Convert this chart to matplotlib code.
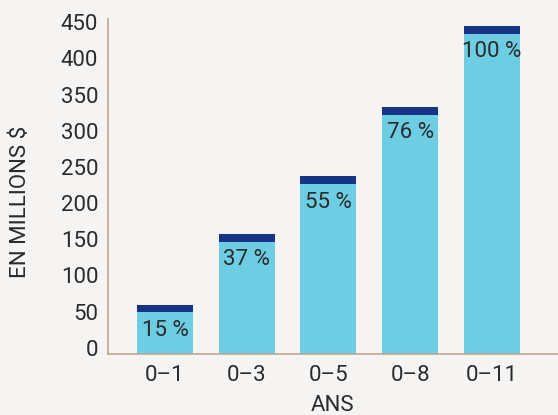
import matplotlib

matplotlib.use("Agg")
import matplotlib.pyplot as plt
import matplotlib.transforms as mtransforms

# Data
categories = ["0\u20131", "0\u20133", "0\u20135", "0\u20138", "0\u201311"]
base_values = [58, 155, 235, 331, 443]
cap_values = [10, 11, 11, 11, 11]
pct_labels = ["15 %", "37 %", "55 %", "76 %", "100 %"]
yticks = [0, 50, 100, 150, 200, 250, 300, 350, 400, 450]

LIGHT = "#6dcde3"
NAVY = "#163384"
BG = "#f5f4f2"
SPINE = "#bda88f"
TEXT = "#2b2b2b"
FS = 16

plt.rcParams["font.family"] = ["Roboto", "DejaVu Sans"]

fig = plt.figure(figsize=(5.58, 4.15), dpi=100, facecolor=BG)
ax = fig.add_axes([0.1935, 0.147, 0.8065, 0.807])
ax.set_facecolor(BG)

x = list(range(len(categories)))
ax.bar(x, base_values, width=0.685, color=LIGHT, linewidth=0)
ax.bar(x, cap_values, width=0.685, bottom=base_values, color=NAVY, linewidth=0)

for xi, top, lab in zip(x, base_values, pct_labels):
    ax.annotate(lab, (xi, top), xytext=(0, -13), textcoords="offset points",
                ha="center", va="center", fontsize=FS, color=TEXT)

ax.set_xlim(-0.697, 4.807)
ax.set_ylim(0, 463)
ax.set_xticks(x)
ax.set_xticklabels(categories)
ax.set_yticks(yticks)
ax.tick_params(axis="both", length=0, labelsize=FS, labelcolor=TEXT)
ax.tick_params(axis="y", pad=7)
ax.tick_params(axis="x", pad=8)

# the original's y labels sit a few pixels above their values
offset = mtransforms.ScaledTranslation(0, 4.5 / 72, fig.dpi_scale_trans)
for lbl in ax.get_yticklabels():
    lbl.set_transform(lbl.get_transform() + offset)

for side in ["top", "right"]:
    ax.spines[side].set_visible(False)
for side in ["left", "bottom"]:
    ax.spines[side].set_color(SPINE)
    ax.spines[side].set_linewidth(1.2)

fig.text(21 / 558, 1 - 202 / 415, "EN MILLIONS $", rotation=90, ha="center",
         va="center", fontsize=FS, color=TEXT)
fig.text(333 / 558, 1 - 405 / 415, "ANS", ha="center", va="center",
         fontsize=FS, color=TEXT)

fig.savefig("out.png", dpi=100, facecolor=BG)
